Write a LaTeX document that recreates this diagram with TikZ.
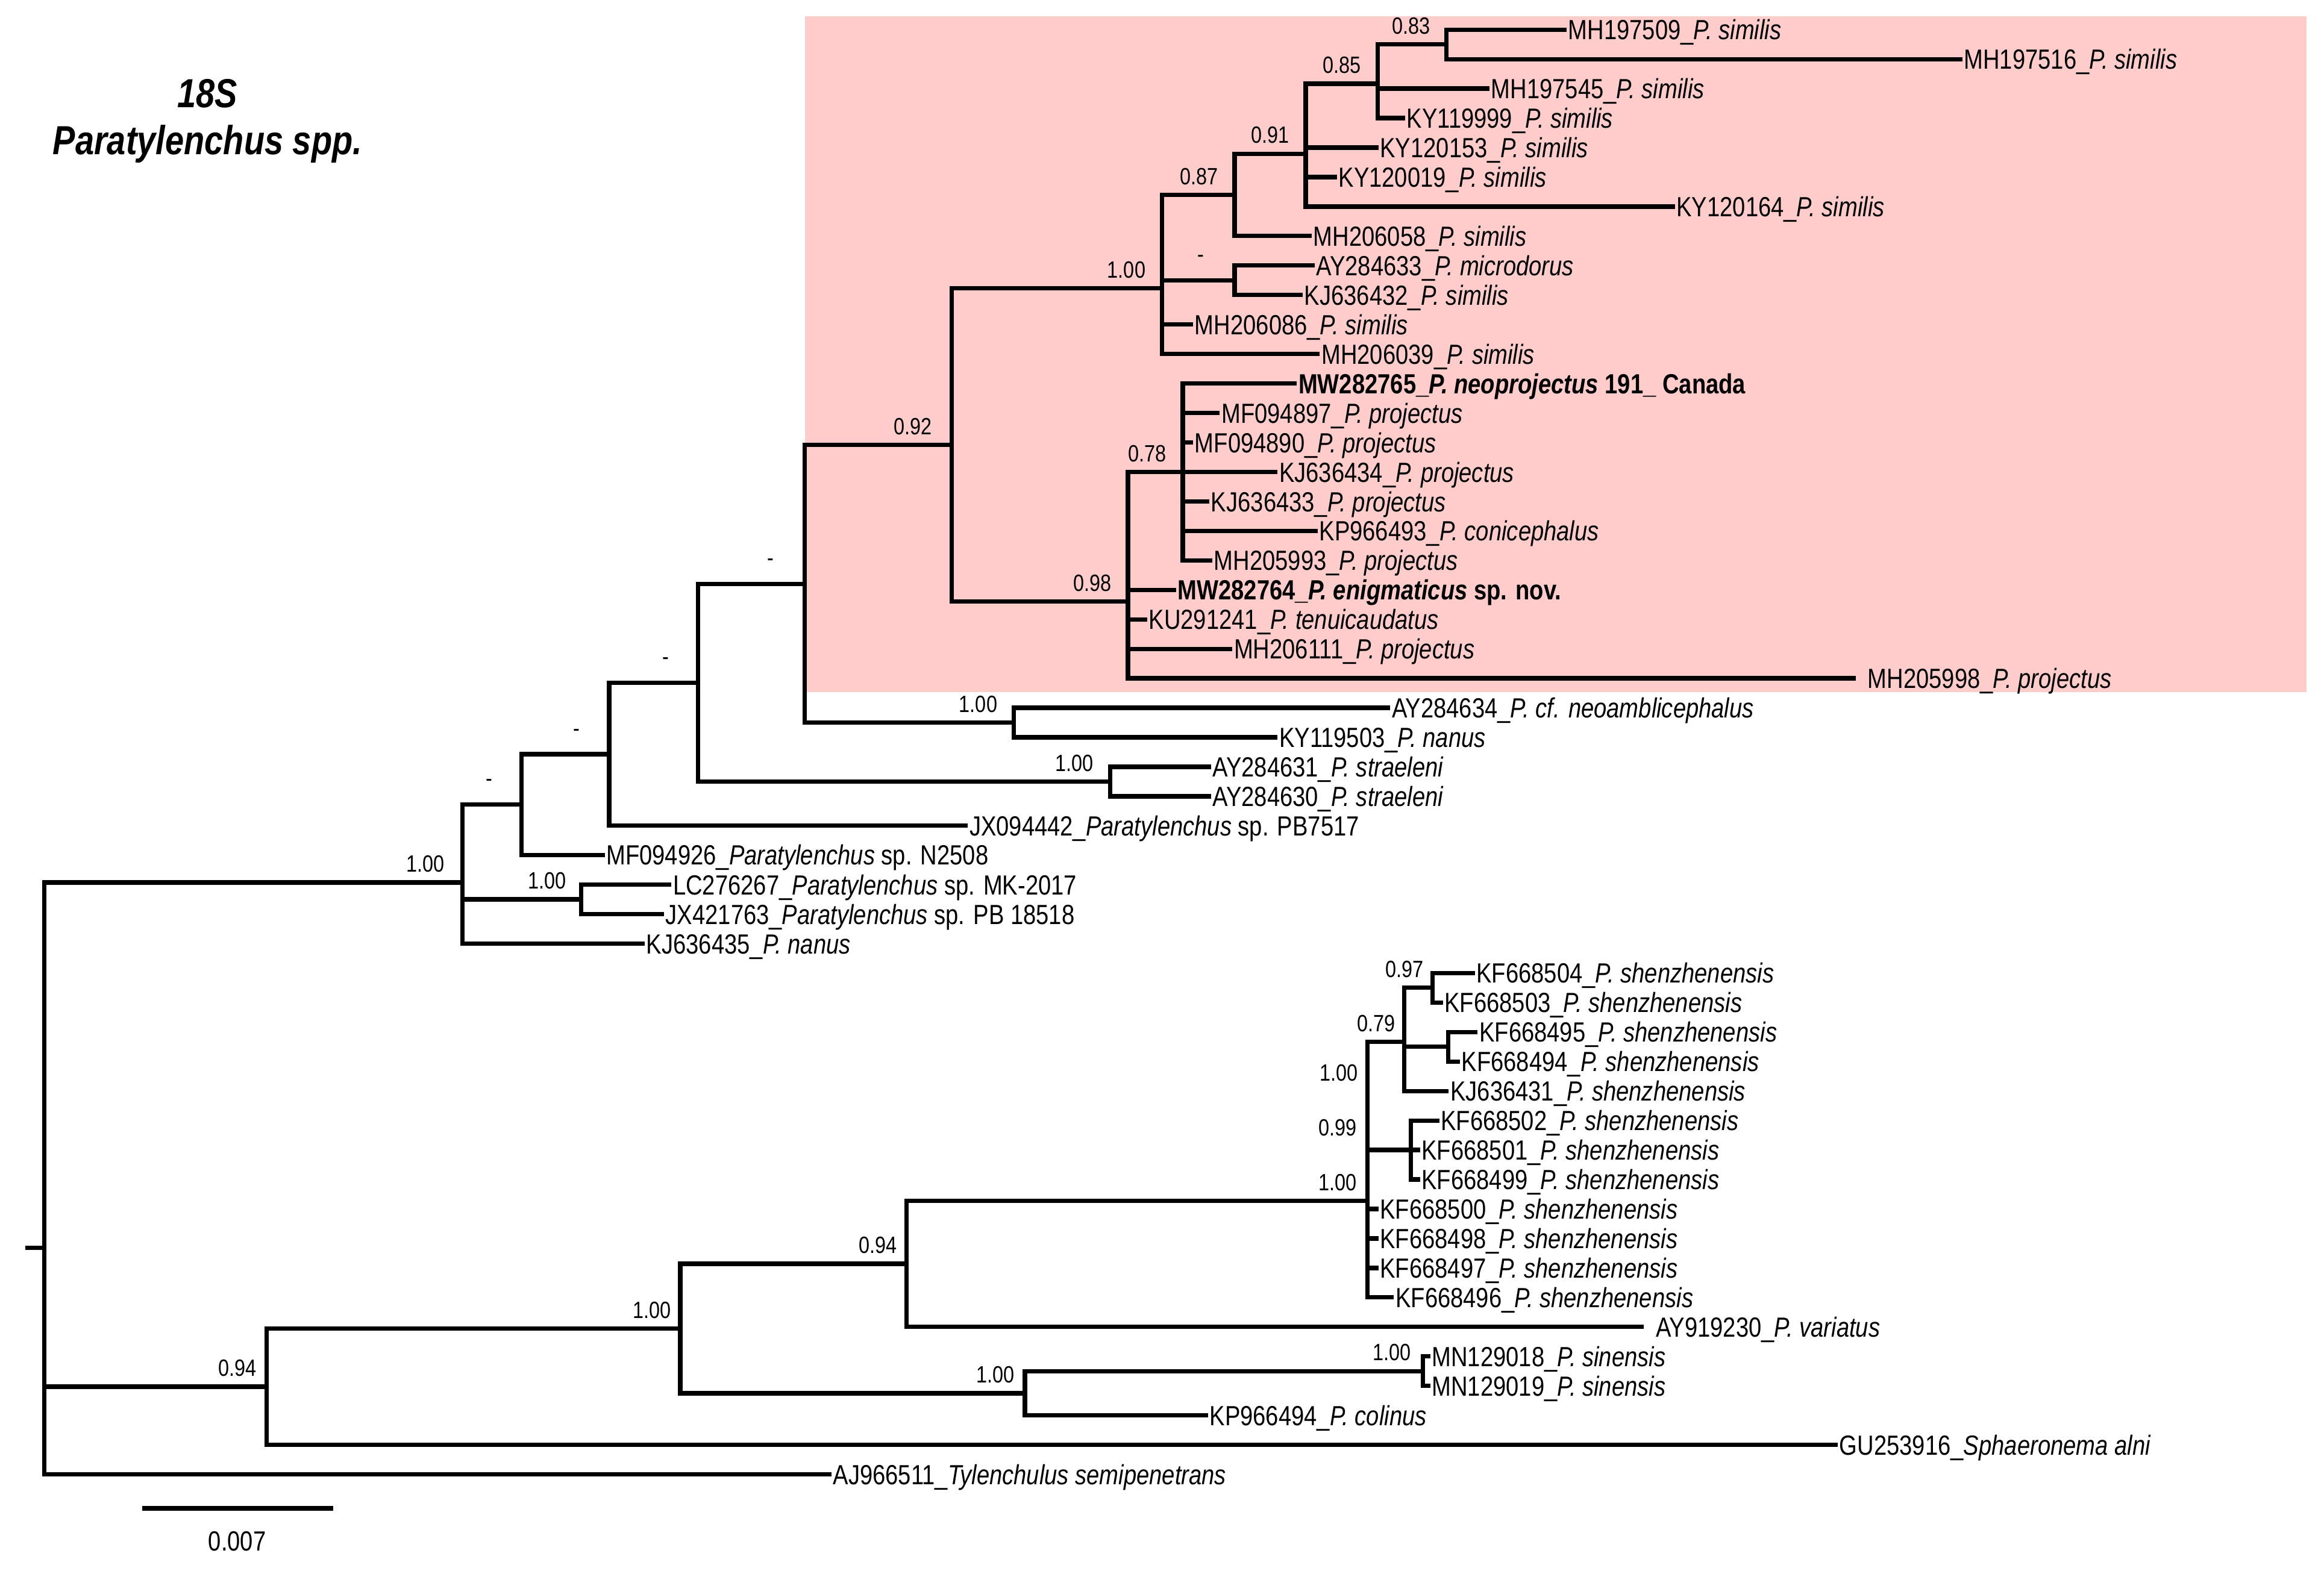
\documentclass[tikz,border=0pt]{standalone}
\usepackage{fontspec}
\setmainfont{Liberation Sans}[FakeStretch=0.83]
\usepackage{xcolor}
\usepackage{tikz}
\definecolor{cladepink}{RGB}{255,204,204}
\newcommand{\leaffont}{\fontsize{13.3}{15}\selectfont}
\newcommand{\supfont}{\fontsize{11.3}{13}\selectfont}
\newcommand{\spname}[1]{\textit{#1}}

\begin{document}
\begin{tikzpicture}[x=0.025cm, y=-0.025cm]

	\tikzstyle{branch}=[black, line width=2.1pt]
	\tikzstyle{leaf label}=[anchor=base west, inner sep=0pt, xshift=0.6pt, yshift=-4.8pt, font=\leaffont]
	\tikzstyle{post prob}=[inner sep=0pt, font=\supfont]
	\tikzstyle{title text}=[inner sep=0pt, font=\fontsize{19.5}{24}\selectfont\bfseries\itshape]

	\useasboundingbox (0,0) rectangle (1568,1060);

	%pink box for the projectus/similis clade
	\fill [cladepink] (543,11) rectangle (1556,467);

	%title
	\node [title text] (title1) at (140,63) {18S};
	\node [title text] (title2) at (140,97) {Paratylenchus spp.};

	%internal nodes
	\coordinate (R) at (30,842.15);
	\coordinate (A) at (312,595.58);
	\coordinate (C1) at (352,542.98);
	\coordinate (C2) at (392,606.95);
	\coordinate (D) at (411,508.96);
	\coordinate (E) at (471,460.73);
	\coordinate (F) at (543,394.0);
	\coordinate (G) at (749,527.45);
	\coordinate (H) at (642,300.35);
	\coordinate (I) at (684,487.65);
	\coordinate (J) at (784,194.64);
	\coordinate (K) at (761,406.06);
	\coordinate (L) at (833,131.5);
	\coordinate (M) at (833,189.15);
	\coordinate (N) at (881,103.75);
	\coordinate (O) at (929.5,56.48);
	\coordinate (P) at (976,29.95);
	\coordinate (Q) at (798,318.5);
	\coordinate (B) at (180,935.86);
	\coordinate (S) at (459,896.61);
	\coordinate (T) at (611.5,852.94);
	\coordinate (U) at (691.5,940.28);
	\coordinate (Uu) at (960,925.35);
	\coordinate (V) at (922.5,810.37);
	\coordinate (W) at (947.5,703.13);
	\coordinate (X) at (966.5,666.65);
	\coordinate (Y) at (977,706.45);
	\coordinate (Z) at (952,776.1);
	\coordinate (stub) at (17,842.15);

	%leaf tips
	\coordinate (MH197509) at (1057,20.0);
	\coordinate (MH197516) at (1324,39.9);
	\coordinate (MH197545) at (1005,59.8);
	\coordinate (KY119999) at (948,79.7);
	\coordinate (KY120153) at (930,99.6);
	\coordinate (KY120019) at (902,119.5);
	\coordinate (KY120164) at (1130,139.4);
	\coordinate (MH206058) at (885,159.3);
	\coordinate (AY284633) at (887,179.2);
	\coordinate (KJ636432) at (879,199.1);
	\coordinate (MH206086) at (805,219.0);
	\coordinate (MH206039) at (890.5,238.9);
	\coordinate (MW282765) at (875,258.8);
	\coordinate (MF094897) at (823,278.7);
	\coordinate (MF094890) at (805,298.6);
	\coordinate (KJ636434) at (862,318.5);
	\coordinate (KJ636433) at (816,338.4);
	\coordinate (KP966493) at (889,358.3);
	\coordinate (MH205993) at (818,378.2);
	\coordinate (MW282764) at (793.5,398.1);
	\coordinate (KU291241) at (774,418.0);
	\coordinate (MH206111) at (831.5,437.9);
	\coordinate (MH205998) at (1252,457.8);
	\coordinate (AY284634) at (938,477.7);
	\coordinate (KY119503) at (862,497.6);
	\coordinate (AY284631) at (817,517.5);
	\coordinate (AY284630) at (817,537.4);
	\coordinate (JX094442) at (653,557.2);
	\coordinate (MF094926) at (408,577.0);
	\coordinate (LC276267) at (453,597.0);
	\coordinate (JX421763) at (448,616.9);
	\coordinate (KJ636435) at (435,636.8);
	\coordinate (KF668504) at (995,656.7);
	\coordinate (KF668503) at (973.5,676.6);
	\coordinate (KF668495) at (997,696.5);
	\coordinate (KF668494) at (985,716.4);
	\coordinate (KJ636431) at (977.5,736.3);
	\coordinate (KF668502) at (971,756.2);
	\coordinate (KF668501) at (958,776.1);
	\coordinate (KF668499) at (958,796.0);
	\coordinate (KF668500) at (930,815.9);
	\coordinate (KF668498) at (930,835.8);
	\coordinate (KF668497) at (930,855.7);
	\coordinate (KF668496) at (940.5,875.6);
	\coordinate (AY919230) at (1109,895.5);
	\coordinate (MN129018) at (965,915.4);
	\coordinate (MN129019) at (965,935.3);
	\coordinate (KP966494) at (815,955.2);
	\coordinate (GU253916) at (1240,975.1);
	\coordinate (AJ966511) at (561,995.0);

	%branches, upper part
	\draw [branch] (stub) -- (R);
	\draw [branch] (R) |- (A) (R) |- (B) (R) |- (AJ966511);
	\draw [branch] (A) |- (C1) (A) |- (C2) (A) |- (KJ636435);
	\draw [branch] (C1) |- (D) (C1) |- (MF094926);
	\draw [branch] (C2) |- (LC276267) (C2) |- (JX421763);
	\draw [branch] (D) |- (E) (D) |- (JX094442);
	\draw [branch] (E) |- (F) (E) |- (G);
	\draw [branch] (G) |- (AY284631) (G) |- (AY284630);
	\draw [branch] (F) |- (H) (F) |- (I);
	\draw [branch] (I) |- (AY284634) (I) |- (KY119503);
	\draw [branch] (H) |- (J) (H) |- (K);
	\draw [branch] (J) |- (L) (J) |- (M) (J) |- (MH206086) (J) |- (MH206039);
	\draw [branch] (L) |- (N) (L) |- (MH206058);
	\draw [branch] (N) |- (O) (N) |- (KY120153) (N) |- (KY120019) (N) |- (KY120164);
	\draw [branch] (O) |- (P) (O) |- (MH197545) (O) |- (KY119999);
	\draw [branch] (P) |- (MH197509) (P) |- (MH197516);
	\draw [branch] (M) |- (AY284633) (M) |- (KJ636432);
	\draw [branch] (K) |- (Q) (K) |- (MW282764) (K) |- (KU291241) (K) |- (MH206111) (K) |- (MH205998);
	\draw [branch] (Q) |- (MW282765) (Q) |- (MF094897) (Q) |- (MF094890) (Q) |- (KJ636434)
		(Q) |- (KJ636433) (Q) |- (KP966493) (Q) |- (MH205993);

	%branches, lower part
	\draw [branch] (B) |- (S) (B) |- (GU253916);
	\draw [branch] (S) |- (T) (S) |- (U);
	\draw [branch] (T) |- (V) (T) |- (AY919230);
	\draw [branch] (V) |- (W) (V) |- (Z) (V) |- (KF668500) (V) |- (KF668498) (V) |- (KF668497) (V) |- (KF668496);
	\draw [branch] (W) |- (X) (W) |- (Y) (W) |- (KJ636431);
	\draw [branch] (X) |- (KF668504) (X) |- (KF668503);
	\draw [branch] (Y) |- (KF668495) (Y) |- (KF668494);
	\draw [branch] (Z) |- (KF668502) (Z) |- (KF668501) (Z) |- (KF668499);
	\draw [branch] (U) |- (Uu) (U) |- (KP966494);
	\draw [branch] (Uu) |- (MN129018) (Uu) |- (MN129019);

	%posterior probabilities
	\node [post prob] (pp P) at ([shift={(-24,-12.5)}]P) {0.83};
	\node [post prob] (pp O) at ([shift={(-24,-12.5)}]O) {0.85};
	\node [post prob] (pp N) at ([shift={(-24,-12.5)}]N) {0.91};
	\node [post prob] (pp L) at ([shift={(-24,-12.5)}]L) {0.87};
	\node [post prob] (pp J) at ([shift={(-24,-12.5)}]J) {1.00};
	\node [post prob] (pp H) at ([shift={(-26,-12.5)}]H) {0.92};
	\node [post prob] (pp K) at ([shift={(-24,-12.5)}]K) {0.98};
	\node [post prob] (pp Q) at ([shift={(-24,-12.5)}]Q) {0.78};
	\node [post prob] (pp I) at ([shift={(-24,-12.5)}]I) {1.00};
	\node [post prob] (pp G) at ([shift={(-24,-12.5)}]G) {1.00};
	\node [post prob] (pp C2) at ([shift={(-23,-12.5)}]C2) {1.00};
	\node [post prob] (pp A) at ([shift={(-25,-12.5)}]A) {1.00};
	\node [post prob] (pp M) at ([shift={(-23,-14.5)}]M) {-};
	\node [post prob] (pp F) at ([shift={(-23,-14.5)}]F) {-};
	\node [post prob] (pp E) at ([shift={(-22,-14.5)}]E) {-};
	\node [post prob] (pp D) at ([shift={(-22,-14.5)}]D) {-};
	\node [post prob] (pp C1) at ([shift={(-22,-14.5)}]C1) {-};
	\node [post prob] (pp B) at ([shift={(-20,-12.5)}]B) {0.94};
	\node [post prob] (pp S) at ([shift={(-19,-12.5)}]S) {1.00};
	\node [post prob] (pp T) at ([shift={(-19,-12.5)}]T) {0.94};
	\node [post prob] (pp U) at ([shift={(-20,-12.5)}]U) {1.00};
	\node [post prob] (pp Uu) at ([shift={(-21,-12.5)}]Uu) {1.00};
	\node [post prob] (pp V) at ([shift={(-20,-12.5)}]V) {1.00};
	\node [post prob] (pp V2) at ([shift={(-20,-49.5)}]V) {0.99};
	\node [post prob] (pp V3) at ([shift={(-19,-86.4)}]V) {1.00};
	\node [post prob] (pp W) at ([shift={(-19,-12.5)}]W) {0.79};
	\node [post prob] (pp X) at ([shift={(-19,-12.5)}]X) {0.97};

	%taxon labels
	\node [leaf label] (MH197509 lab) at (MH197509) {MH197509\_\spname{P. similis}};
	\node [leaf label] (MH197516 lab) at (MH197516) {MH197516\_\spname{P. similis}};
	\node [leaf label] (MH197545 lab) at (MH197545) {MH197545\_\spname{P. similis}};
	\node [leaf label] (KY119999 lab) at (KY119999) {KY119999\_\spname{P. similis}};
	\node [leaf label] (KY120153 lab) at (KY120153) {KY120153\_\spname{P. similis}};
	\node [leaf label] (KY120019 lab) at (KY120019) {KY120019\_\spname{P. similis}};
	\node [leaf label] (KY120164 lab) at (KY120164) {KY120164\_\spname{P. similis}};
	\node [leaf label] (MH206058 lab) at (MH206058) {MH206058\_\spname{P. similis}};
	\node [leaf label] (AY284633 lab) at (AY284633) {AY284633\_\spname{P. microdorus}};
	\node [leaf label] (KJ636432 lab) at (KJ636432) {KJ636432\_\spname{P. similis}};
	\node [leaf label] (MH206086 lab) at (MH206086) {MH206086\_\spname{P. similis}};
	\node [leaf label] (MH206039 lab) at (MH206039) {MH206039\_\spname{P. similis}};
	\node [leaf label] (MW282765 lab) at (MW282765) {\textbf{MW282765\_\spname{P. neoprojectus} 191\_ Canada}};
	\node [leaf label] (MF094897 lab) at (MF094897) {MF094897\_\spname{P. projectus}};
	\node [leaf label] (MF094890 lab) at (MF094890) {MF094890\_\spname{P. projectus}};
	\node [leaf label] (KJ636434 lab) at (KJ636434) {KJ636434\_\spname{P. projectus}};
	\node [leaf label] (KJ636433 lab) at (KJ636433) {KJ636433\_\spname{P. projectus}};
	\node [leaf label] (KP966493 lab) at (KP966493) {KP966493\_\spname{P. conicephalus}};
	\node [leaf label] (MH205993 lab) at (MH205993) {MH205993\_\spname{P. projectus}};
	\node [leaf label] (MW282764 lab) at (MW282764) {\textbf{MW282764\_\spname{P. enigmaticus} sp. nov.}};
	\node [leaf label] (KU291241 lab) at (KU291241) {KU291241\_\spname{P. tenuicaudatus}};
	\node [leaf label] (MH206111 lab) at (MH206111) {MH206111\_\spname{P. projectus}};
	\node [leaf label, xshift=5pt] (MH205998 lab) at (MH205998) {MH205998\_\spname{P. projectus}};
	\node [leaf label] (AY284634 lab) at (AY284634) {AY284634\_\spname{P. cf. neoamblicephalus}};
	\node [leaf label] (KY119503 lab) at (KY119503) {KY119503\_\spname{P. nanus}};
	\node [leaf label] (AY284631 lab) at (AY284631) {AY284631\_\spname{P. straeleni}};
	\node [leaf label] (AY284630 lab) at (AY284630) {AY284630\_\spname{P. straeleni}};
	\node [leaf label] (JX094442 lab) at (JX094442) {JX094442\_\spname{Paratylenchus} sp. PB7517};
	\node [leaf label] (MF094926 lab) at (MF094926) {MF094926\_\spname{Paratylenchus} sp. N2508};
	\node [leaf label] (LC276267 lab) at (LC276267) {LC276267\_\spname{Paratylenchus} sp. MK-2017};
	\node [leaf label] (JX421763 lab) at (JX421763) {JX421763\_\spname{Paratylenchus} sp. PB 18518};
	\node [leaf label] (KJ636435 lab) at (KJ636435) {KJ636435\_\spname{P. nanus}};
	\node [leaf label] (KF668504 lab) at (KF668504) {KF668504\_\spname{P. shenzhenensis}};
	\node [leaf label] (KF668503 lab) at (KF668503) {KF668503\_\spname{P. shenzhenensis}};
	\node [leaf label] (KF668495 lab) at (KF668495) {KF668495\_\spname{P. shenzhenensis}};
	\node [leaf label] (KF668494 lab) at (KF668494) {KF668494\_\spname{P. shenzhenensis}};
	\node [leaf label] (KJ636431 lab) at (KJ636431) {KJ636431\_\spname{P. shenzhenensis}};
	\node [leaf label] (KF668502 lab) at (KF668502) {KF668502\_\spname{P. shenzhenensis}};
	\node [leaf label] (KF668501 lab) at (KF668501) {KF668501\_\spname{P. shenzhenensis}};
	\node [leaf label] (KF668499 lab) at (KF668499) {KF668499\_\spname{P. shenzhenensis}};
	\node [leaf label] (KF668500 lab) at (KF668500) {KF668500\_\spname{P. shenzhenensis}};
	\node [leaf label] (KF668498 lab) at (KF668498) {KF668498\_\spname{P. shenzhenensis}};
	\node [leaf label] (KF668497 lab) at (KF668497) {KF668497\_\spname{P. shenzhenensis}};
	\node [leaf label] (KF668496 lab) at (KF668496) {KF668496\_\spname{P. shenzhenensis}};
	\node [leaf label, xshift=5pt] (AY919230 lab) at (AY919230) {AY919230\_\spname{P. variatus}};
	\node [leaf label] (MN129018 lab) at (MN129018) {MN129018\_\spname{P. sinensis}};
	\node [leaf label] (MN129019 lab) at (MN129019) {MN129019\_\spname{P. sinensis}};
	\node [leaf label] (KP966494 lab) at (KP966494) {KP966494\_\spname{P. colinus}};
	\node [leaf label] (GU253916 lab) at (GU253916) {GU253916\_\spname{Sphaeronema alni}};
	\node [leaf label] (AJ966511 lab) at (AJ966511) {AJ966511\_\spname{Tylenchulus semipenetrans}};

	%scale bar
	\coordinate (bar left) at (96,1018);
	\coordinate (bar right) at (225,1018);
	\draw [branch] (bar left) -- (bar right);
	\node [inner sep=0pt, font=\leaffont] (bar lab) at (160,1040) {0.007};

\end{tikzpicture}
\end{document}
